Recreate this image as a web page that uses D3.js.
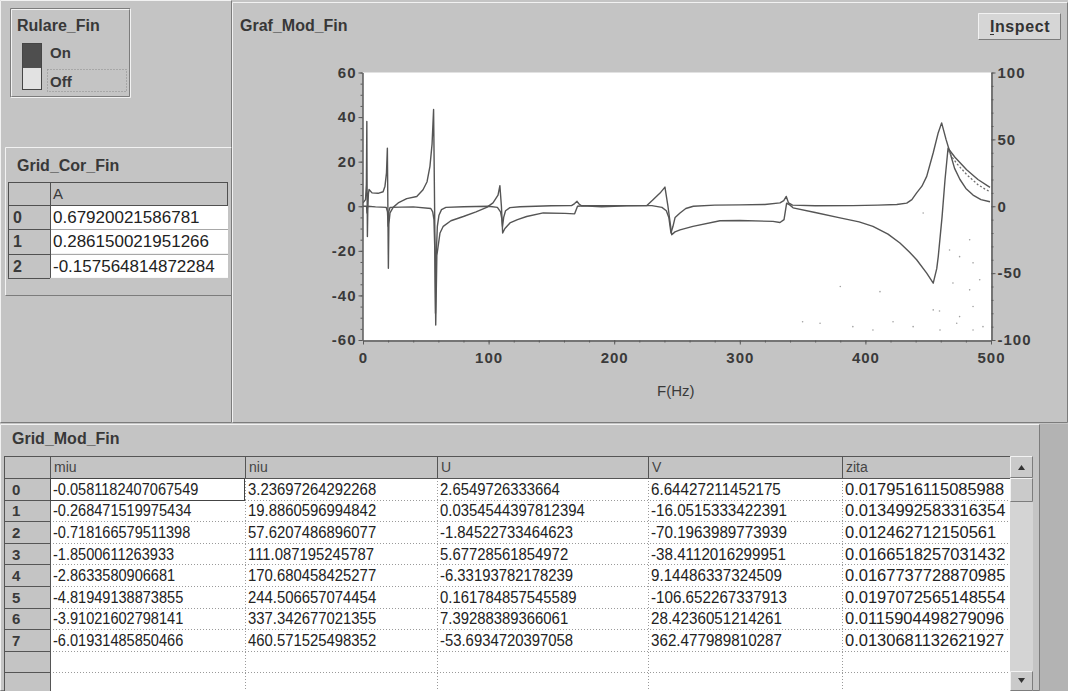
<!DOCTYPE html>
<html>
<head>
<meta charset="utf-8">
<script src="https://cdn.jsdelivr.net/npm/d3@7"></script>
<style>
  html, body { margin: 0; padding: 0; background: #c4c4c4; }
  svg { display: block; }
  text { font-family: "Liberation Sans", Arial, sans-serif; }
</style>
</head>
<body>
<svg id="ui" width="1068" height="691"></svg>
<script>
// ---------------- data ----------------
// Real part of the modal FRF estimate: [frequency (Hz), value]
const reFreq = [0, 2.0, 2.7, 3.05, 3.25, 3.5, 3.8, 4.3, 4.8, 7.2, 12, 16, 17.5, 18.7, 19.4, 19.8, 20.2, 20.6, 21.5, 24, 28,
  34.8, 42.8, 47.8, 51, 53.3, 55, 56.2, 57, 57.9, 58.8, 61.3, 63.9, 70, 79.9, 90, 98.5, 103.5, 107.5, 109.0, 110.2, 111.2,
  113, 117, 123, 130.3, 143.5, 160.8, 168.5, 169.8, 170.8, 175, 190, 210, 226, 230.9, 236.5, 240.4, 242.8, 245.8, 248.4,
  252.4, 262.7, 284.2, 300, 326.4, 332, 335.2, 337.3, 340, 342.4, 360, 379.8, 395, 406, 418, 427.5, 435, 440.8, 448.8,
  454, 456.8, 458, 461, 463.4, 465.8, 471.3, 480.6, 489.6, 499.2];
const reVal = [1.5, 3, 10, 38, 10, -13.6, -2, 5.5, 7.5, 6, 5.8, 6.5, 9, 15, 26, 0, -27.8, -8, -3, -0.5, 1.5,
  3.4, 4.4, 7.4, 11, 17.9, 28, 43.4, 0, -53.3, -22, -12, -9, -6.5, -4.6, -2.5, -0.5, 1.5, 5, 9.2, 0, -12,
  -10, -7.5, -6, -4.6, -3, -3.2, -3.4, -1.5, 0, 0.2, -0.2, 0.2, 0.3, 2.9, 5.9, 8.6, 0, -12.8, -11.5,
  -10.6, -9, -6.5, -6.4, -6.8, -7.3, -6, 1.4, 0.5, -0.7, -2.8, -5.2, -7, -9, -12.5, -16.5, -20.5, -24, -30,
  -34.5, -28, -22.6, -5, 12, 26, 22, 16.4, 12, 8.5];

// Imaginary part of the modal FRF estimate
const imFreq = [0, 2.8, 3.2, 3.6, 10, 18.5, 19.5, 20, 20.5, 21.5, 40, 54, 55.5, 56.5, 57.2, 57.7, 58.3, 59.2, 60.5, 62.5,
  66, 80, 100, 107, 109.5, 110.5, 111.1, 112, 113.5, 117, 125, 150, 166, 168.5, 170.4, 172, 174, 200, 230, 238, 241.5,
  243.5, 245.2, 246.8, 248.5, 252.4, 257, 263, 280, 300, 320, 332, 335, 337, 338.8, 342, 360, 390, 410, 425, 432.9,
  437, 440.8, 445, 448.8, 454, 458, 460.7, 464.2, 467.4, 471, 475.3, 480, 485.7, 492, 499.2];
const imVal = [0, 0, -3, 0, -0.3, -0.5, -2.5, -9, -2.5, -0.5, -0.3, -1, -2.5, -6, -20, -48, -22, -9, -4, -1.5,
  -0.5, -0.2, 0, -0.5, -2.5, -5.5, -9, -5, -2, -0.6, -0.2, 0.2, 0.3, 1.2, 2.2, 1, 0.2, 0.3, 0.3, -0.5, -2,
  -5, -12, -9, -5, -3, -1, 0, 0.5, 0.6, 0.8, 1.5, 2.5, 4.4, 1.5, 0.5, 0.2, 0.3, 0.5, 0.8, 1.4,
  3, 6, 9, 13.4, 24, 33, 37.4, 30, 24, 17, 12, 8, 5, 3, 2];

// Measured response near the last mode (dotted)
const measFreq = [466, 469, 473, 477, 481, 485, 490, 495, 499.2];
const measVal = [25, 22, 19, 16.5, 14, 12, 9.5, 7.8, 6.5];

// Scattered measurement points in the upper band
const noiseFreq = [380, 411.6, 446, 454, 459, 475, 483, 485.7, 350, 363.9, 390, 406, 422, 438, 459.4, 472.7, 485.7, 493.6,
  467, 475, 485.7, 483, 469.7, 491];
const noiseVal = [-36, -38.3, -3, -46.5, -47, -49.5, -37.5, -45, -51.8, -52.5, -54, -55.5, -51.8, -54, -55.5, -52.5, -55.5, -54,
  -19.6, -22.6, -25.4, -15, -34.4, -33];

// Axis ticks
const leftTicks = [-60, -40, -20, 0, 20, 40, 60];
const rightTicks = [-100, -50, 0, 50, 100];
const freqTicks = [0, 100, 200, 300, 400, 500];

// Grid_Cor_Fin
const corrHeader = ["A"];
const corrValues = [0.67920021586781, 0.286150021951266, -0.157564814872284];

// Grid_Mod_Fin
const modeColumns = ["miu", "niu", "U", "V", "zita"];
const miu = [-0.0581182407067549, -0.268471519975434, -0.718166579511398, -1.8500611263933, -2.8633580906681,
  -4.81949138873855, -3.91021602798141, -6.01931485850466];
const niu = [3.23697264292268, 19.8860596994842, 57.6207486896077, 111.087195245787, 170.680458425277,
  244.506657074454, 337.342677021355, 460.571525498352];
const U = [2.6549726333664, 0.0354544397812394, -1.84522733464623, 5.67728561854972, -6.33193782178239,
  0.161784857545589, 7.39288389366061, -53.6934720397058];
const V = [6.64427211452175, -16.0515333422391, -70.1963989773939, -38.4112016299951, 9.14486337324509,
  -106.652267337913, 28.4236051214261, 362.477989810287];
const zita = [0.0179516115085988, 0.0134992583316354, 0.012462712150561, 0.0166518257031432, 0.0167737728870985,
  0.0197072565148554, 0.0115904498279096, 0.0130681132621927];

// ---------------- drawing ----------------
const W = 1068, H = 691;
const BG = "#c4c4c4", INK = "#2e2e2e", LIGHT = "#f2f2f2", SHADE = "#7c7c7c";
const svg = d3.select("#ui");
const defs = svg.append("defs");

svg.append("rect").attr("width", W).attr("height", H).attr("fill", BG);

function bevel(g, x, y, w, h, raised) {
  const tl = raised ? LIGHT : SHADE, br = raised ? SHADE : LIGHT;
  g.append("path").attr("d", `M${x + 0.5},${y + h - 0.5}V${y + 0.5}H${x + w - 0.5}`)
    .attr("fill", "none").attr("stroke", tl);
  g.append("path").attr("d", `M${x + w - 0.5},${y + 0.5}V${y + h - 0.5}H${x + 0.5}`)
    .attr("fill", "none").attr("stroke", br);
}
function label(g, x, y, str, size, opts = {}) {
  const t = g.append("text")
    .attr("transform", `translate(${x},${y}) scale(${opts.sx || 1},1)`)
    .attr("font-size", size)
    .attr("font-weight", opts.bold ? "bold" : "normal")
    .attr("fill", opts.fill || INK)
    .attr("text-anchor", opts.anchor || "start")
    .text(str);
  if (opts.ls) t.attr("letter-spacing", opts.ls);
  return t;
}

// ---- panel frames ----
const frames = svg.append("g");
bevel(frames, 0, 0, 232, 423, true);
bevel(frames, 232, 2, 836, 421, true);
bevel(frames, 0, 424, 1040, 267, true);
frames.append("rect").attr("x", 1040).attr("y", 424).attr("width", 28).attr("height", 267).attr("fill", "#b3b3b3");

// ---- Rulare_Fin switch ----
const sw = svg.append("g");
bevel(sw, 10, 8, 121, 90, false);
bevel(sw, 11, 9, 119, 88, true);
label(sw, 17, 31, "Rulare_Fin", 16, { bold: true, fill: "#383838" });
sw.append("rect").attr("x", 22).attr("y", 43).attr("width", 20).attr("height", 24).attr("fill", "#4e4e4e");
sw.append("rect").attr("x", 22.5).attr("y", 67.5).attr("width", 19).attr("height", 22).attr("fill", "#e2e2e2")
  .attr("stroke", "#505050");
sw.append("rect").attr("x", 22.5).attr("y", 43.5).attr("width", 19).attr("height", 46).attr("fill", "none")
  .attr("stroke", "#454545");
label(sw, 50, 58, "On", 15, { bold: true, fill: "#3a3a3a" });
label(sw, 50, 87, "Off", 15, { bold: true, fill: "#3a3a3a" });
sw.append("rect").attr("x", 47.5).attr("y", 69.5).attr("width", 79).attr("height", 22).attr("fill", "none")
  .attr("stroke", "#8a8a8a").attr("stroke-dasharray", "1,2");

// ---- Grid_Cor_Fin ----
const gc = svg.append("g");
bevel(gc, 5, 147, 227, 149, true);
label(gc, 17, 171, "Grid_Cor_Fin", 16, { bold: true, fill: "#383838" });
const gcCols = [8, 50, 228], gcTop = 182, gcHeadH = 23, gcRowH = 24.3;
gc.append("rect").attr("x", gcCols[0]).attr("y", gcTop).attr("width", gcCols[2] - gcCols[0])
  .attr("height", gcHeadH + gcRowH * corrValues.length).attr("fill", BG);
gc.selectAll("rect.cell").data(corrValues).join("rect").attr("class", "cell")
  .attr("x", gcCols[1]).attr("y", (d, i) => gcTop + gcHeadH + i * gcRowH)
  .attr("width", gcCols[2] - gcCols[1]).attr("height", gcRowH).attr("fill", "#ffffff");
gc.selectAll("line.h").data(d3.range(corrValues.length + 2)).join("line").attr("class", "h")
  .attr("x1", gcCols[0]).attr("x2", (d, i) => (i === 0 || i === 1) ? gcCols[2] : gcCols[1])
  .attr("y1", (d, i) => Math.round(gcTop + (i === 0 ? 0 : gcHeadH + (i - 1) * gcRowH)) + 0.5)
  .attr("y2", (d, i) => Math.round(gcTop + (i === 0 ? 0 : gcHeadH + (i - 1) * gcRowH)) + 0.5)
  .attr("stroke", "#505050");
gc.selectAll("line.hv").data(d3.range(1, corrValues.length)).join("line").attr("class", "hv")
  .attr("x1", gcCols[1]).attr("x2", gcCols[2])
  .attr("y1", d => Math.round(gcTop + gcHeadH + d * gcRowH) + 0.5)
  .attr("y2", d => Math.round(gcTop + gcHeadH + d * gcRowH) + 0.5)
  .attr("stroke", "#a8a8a8");
gc.append("line").attr("x1", gcCols[1] + 0.5).attr("x2", gcCols[1] + 0.5).attr("y1", gcTop)
  .attr("y2", gcTop + gcHeadH + gcRowH * corrValues.length).attr("stroke", "#505050");
gc.append("line").attr("x1", gcCols[0] + 0.5).attr("x2", gcCols[0] + 0.5).attr("y1", gcTop)
  .attr("y2", gcTop + gcHeadH + gcRowH * corrValues.length).attr("stroke", "#505050");
gc.append("line").attr("x1", gcCols[2] - 0.5).attr("x2", gcCols[2] - 0.5).attr("y1", gcTop)
  .attr("y2", gcTop + gcHeadH).attr("stroke", "#505050");
label(gc, gcCols[1] + 3, gcTop + 17, corrHeader[0], 15, { fill: "#3a3a3a" });
corrValues.forEach((v, i) => {
  const cy = gcTop + gcHeadH + i * gcRowH + gcRowH / 2 + 6;
  label(gc, 13, cy, String(i), 16, { bold: true, fill: "#3a3a3a" });
  label(gc, gcCols[1] + 3, cy, String(v), 17, { fill: "#222" });
});

// ---- Graph ----
const gg = svg.append("g");
label(gg, 240, 31, "Graf_Mod_Fin", 16, { bold: true, fill: "#383838" });
gg.append("rect").attr("x", 978).attr("y", 13).attr("width", 83).attr("height", 27).attr("fill", "#d6d6d6");
bevel(gg, 978, 13, 83, 27, true);
label(gg, 1020, 32, "Inspect", 16, { bold: true, anchor: "middle", fill: "#333", ls: 0.6 });
gg.append("line").attr("x1", 990).attr("x2", 994).attr("y1", 34.5).attr("y2", 34.5).attr("stroke", "#333");

const x = d3.scaleLinear().domain([0, 500]).range([363, 991]);
const yL = d3.scaleLinear().domain([-60, 60]).range([340, 72.5]);
const yR = d3.scaleLinear().domain([-100, 100]).range([340, 72.5]);

gg.append("rect").attr("x", 363).attr("y", 72.5).attr("width", 628).attr("height", 267.5).attr("fill", "#ffffff");
defs.append("clipPath").attr("id", "plotClip").append("rect")
  .attr("x", 363).attr("y", 72).attr("width", 628).attr("height", 268);

const plot = gg.append("g").attr("clip-path", "url(#plotClip)");
const line = d3.line().x(d => x(d[0])).y(d => yL(d[1]));
const zip = (a, b) => a.map((v, i) => [v, b[i]]);
const CURVE = "#555555";

plot.selectAll("circle.noise").data(zip(noiseFreq, noiseVal)).join("circle").attr("class", "noise")
  .attr("cx", d => x(d[0])).attr("cy", d => yL(d[1])).attr("r", 0.8).attr("fill", "#a0a0a0");
plot.append("path").datum(zip(imFreq, imVal)).attr("d", line)
  .attr("fill", "none").attr("stroke", CURVE).attr("stroke-width", 1.4).attr("stroke-linejoin", "round");
plot.append("path").datum(zip(reFreq, reVal)).attr("d", line)
  .attr("fill", "none").attr("stroke", CURVE).attr("stroke-width", 1.4).attr("stroke-linejoin", "round");
plot.append("path").datum(zip(measFreq, measVal)).attr("d", line)
  .attr("fill", "none").attr("stroke", "#707070").attr("stroke-width", 1.3).attr("stroke-dasharray", "2,2");

const axisStyle = g => {
  g.select(".domain").attr("stroke", "#5a5a5a");
  g.selectAll(".tick line").attr("stroke", "#5a5a5a");
  g.selectAll(".tick text").attr("font-size", 15).attr("font-weight", "bold").attr("fill", "#3a3a3a")
    .attr("letter-spacing", 1).attr("font-family", "\"Liberation Sans\", Arial, sans-serif");
};
const fmt = d => String(d);
gg.append("g").attr("transform", "translate(362.5,0)")
  .call(d3.axisLeft(yL).tickValues(d3.range(-60, 61, 5)).tickSize(2).tickFormat("").tickSizeOuter(0)).call(axisStyle);
gg.append("g").attr("transform", "translate(362.5,0)")
  .call(d3.axisLeft(yL).tickValues(leftTicks).tickSize(4).tickPadding(2).tickFormat(fmt).tickSizeOuter(0))
  .call(axisStyle);
gg.append("g").attr("transform", "translate(991.5,0)")
  .call(d3.axisRight(yR).tickValues(d3.range(-100, 101, 10)).tickSize(2).tickFormat("").tickSizeOuter(0)).call(axisStyle);
gg.append("g").attr("transform", "translate(991.5,0)")
  .call(d3.axisRight(yR).tickValues(rightTicks).tickSize(4).tickPadding(2).tickFormat(fmt).tickSizeOuter(0))
  .call(axisStyle);
gg.append("g").attr("transform", "translate(0,340.5)")
  .call(d3.axisBottom(x).tickValues(d3.range(0, 501, 20)).tickSize(2).tickFormat("").tickSizeOuter(0)).call(axisStyle);
gg.append("g").attr("transform", "translate(0,340.5)")
  .call(d3.axisBottom(x).tickValues(freqTicks).tickSize(4).tickPadding(8).tickFormat(fmt).tickSizeOuter(0))
  .call(axisStyle);
label(gg, 657, 396, "F(Hz)", 15, { fill: "#3a3a3a" });

// ---- Grid_Mod_Fin ----
const gm = svg.append("g");
label(gm, 12, 444, "Grid_Mod_Fin", 16, { bold: true, fill: "#383838" });
const cols = [4, 50, 245, 437, 648, 842, 1010];
const colScale = [0.91, 0.93, 0.93, 0.95, 1.03];
const tblTop = 456, headH = 22, rowH = 21.6, nRows = 10;
const tableBottom = H;
const rowsData = d3.range(nRows).map(i => i < miu.length ? [miu[i], niu[i], U[i], V[i], zita[i]] : null);
const rowY = i => tblTop + headH + i * rowH;

gm.append("rect").attr("x", cols[0]).attr("y", tblTop).attr("width", cols[6] - cols[0]).attr("height", headH).attr("fill", BG);
gm.append("rect").attr("x", cols[0]).attr("y", tblTop + headH).attr("width", cols[1] - cols[0])
  .attr("height", tableBottom - tblTop - headH).attr("fill", BG);
gm.append("rect").attr("x", cols[1]).attr("y", tblTop + headH).attr("width", cols[6] - cols[1])
  .attr("height", tableBottom - tblTop - headH).attr("fill", "#ffffff");

gm.selectAll("line.rowsep").data(d3.range(1, nRows)).join("line").attr("class", "rowsep")
  .attr("x1", cols[1]).attr("x2", cols[6])
  .attr("y1", d => Math.round(rowY(d)) + 0.5).attr("y2", d => Math.round(rowY(d)) + 0.5)
  .attr("stroke", "#9a9a9a").attr("stroke-dasharray", "1,2");
gm.selectAll("line.colsep").data(cols.slice(2, 6)).join("line").attr("class", "colsep")
  .attr("x1", d => d + 0.5).attr("x2", d => d + 0.5).attr("y1", tblTop + headH).attr("y2", tableBottom)
  .attr("stroke", "#9a9a9a").attr("stroke-dasharray", "1,2");
gm.selectAll("line.idxsep").data(d3.range(0, nRows)).join("line").attr("class", "idxsep")
  .attr("x1", cols[0]).attr("x2", cols[1])
  .attr("y1", d => Math.round(rowY(d)) + 0.5).attr("y2", d => Math.round(rowY(d)) + 0.5)
  .attr("stroke", "#555");
gm.selectAll("line.headsep").data(cols.slice(1, 6)).join("line").attr("class", "headsep")
  .attr("x1", d => d + 0.5).attr("x2", d => d + 0.5).attr("y1", tblTop).attr("y2", tblTop + headH)
  .attr("stroke", "#555");
gm.append("line").attr("x1", cols[0]).attr("x2", cols[6]).attr("y1", tblTop + 0.5).attr("y2", tblTop + 0.5).attr("stroke", "#555");
gm.append("line").attr("x1", cols[0]).attr("x2", cols[6]).attr("y1", tblTop + headH + 0.5).attr("y2", tblTop + headH + 0.5)
  .attr("stroke", "#555");
gm.append("line").attr("x1", cols[0] + 0.5).attr("x2", cols[0] + 0.5).attr("y1", tblTop).attr("y2", tableBottom).attr("stroke", "#555");
gm.append("line").attr("x1", cols[1] + 0.5).attr("x2", cols[1] + 0.5).attr("y1", tblTop).attr("y2", tableBottom).attr("stroke", "#555");

modeColumns.forEach((c, j) => label(gm, cols[j + 1] + 4, tblTop + 16, c, 14, { fill: "#444" }));

cols.slice(1, 6).forEach((cx, j) => {
  defs.append("clipPath").attr("id", "colclip" + j).append("rect")
    .attr("x", cx + 1).attr("y", tblTop).attr("width", cols[j + 2] - cx - 2).attr("height", tableBottom - tblTop);
});
rowsData.forEach((row, i) => {
  if (!row) return;
  const base = rowY(i) + rowH / 2 + 6;
  label(gm, 12, base, String(i), 15, { bold: true, fill: "#3a3a3a" });
  row.forEach((v, j) => {
    const cg = gm.append("g").attr("clip-path", `url(#colclip${j})`);
    label(cg, cols[j + 1] + 3, base, String(v), 16, { sx: colScale[j], fill: "#222" });
  });
});
gm.append("rect").attr("x", cols[1] + 0.5).attr("y", Math.round(rowY(0)) + 0.5)
  .attr("width", cols[2] - cols[1] - 1).attr("height", Math.round(rowH)).attr("fill", "none").attr("stroke", "#444");

// scrollbar
const sbX = 1010, sbW = 23;
gm.append("rect").attr("x", sbX).attr("y", tblTop).attr("width", sbW).attr("height", tableBottom - tblTop).attr("fill", "#d4d4d4");
gm.append("rect").attr("x", sbX).attr("y", tblTop).attr("width", sbW).attr("height", headH).attr("fill", "#cacaca");
bevel(gm, sbX, tblTop, sbW, headH, true);
gm.append("path").attr("d", `M${sbX + 8},${tblTop + 14}L${sbX + 11.5},${tblTop + 9}L${sbX + 15},${tblTop + 14}Z`).attr("fill", "#333");
gm.append("rect").attr("x", sbX).attr("y", tblTop + headH).attr("width", sbW).attr("height", 24).attr("fill", "#cacaca");
bevel(gm, sbX, tblTop + headH, sbW, 24, true);
gm.append("rect").attr("x", sbX).attr("y", 671).attr("width", sbW).attr("height", 20).attr("fill", "#cacaca");
bevel(gm, sbX, 671, sbW, 20, true);
gm.append("path").attr("d", `M${sbX + 8},678L${sbX + 11.5},683L${sbX + 15},678Z`).attr("fill", "#333");
</script>
</body>
</html>
